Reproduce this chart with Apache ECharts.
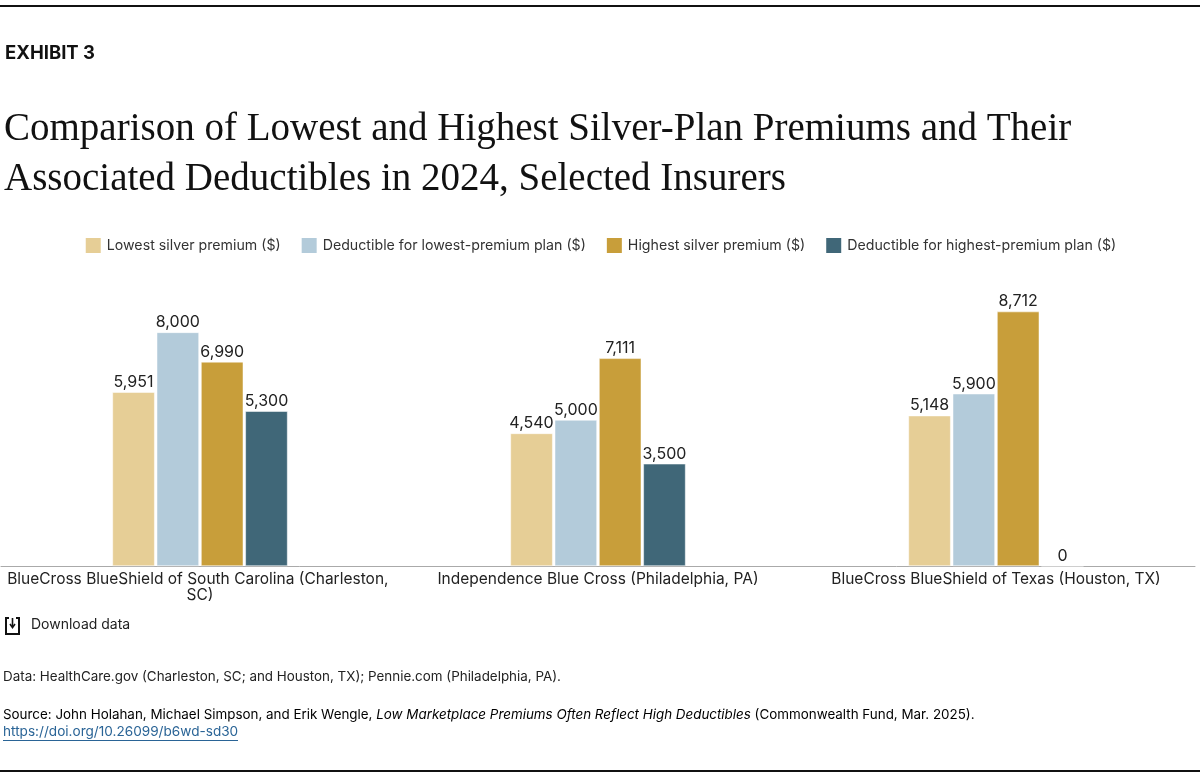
<!DOCTYPE html>
<html>
<head>
<meta charset="utf-8">
<script src="https://cdn.jsdelivr.net/npm/echarts@6/dist/echarts.min.js"></script>
<style>
html,body{margin:0;padding:0;background:#fff;}
#chart{width:1200px;height:775px;}
</style>
</head>
<body>
<div id="chart"></div>
<script>
const categories = [
  "BlueCross BlueShield of South Carolina (Charleston, SC)",
  "Independence Blue Cross (Philadelphia, PA)",
  "BlueCross BlueShield of Texas (Houston, TX)"
];
const seriesNames = [
  "Lowest silver premium ($)",
  "Deductible for lowest-premium plan ($)",
  "Highest silver premium ($)",
  "Deductible for highest-premium plan ($)"
];
const lowestPremium = [5951, 4540, 5148];
const lowestDeductible = [8000, 5000, 5900];
const highestPremium = [6990, 7111, 8712];
const highestDeductible = [5300, 3500, 0];
const colors = ["#E6CE96", "#B3CBDA", "#C89E3A", "#406778"];

const sans = "Inter, Roboto, 'Noto Sans', sans-serif";
const serif = "'Liberation Serif', 'DejaVu Serif', serif";
const allData = [lowestPremium, lowestDeductible, highestPremium, highestDeductible];

const chart = echarts.init(document.getElementById('chart'), null, {renderer: 'canvas'});
const option = {
  animation: false,
  color: colors,
  textStyle: {fontFamily: sans},
  legend: {
    top: 231,
    left: 'center',
    itemWidth: 17,
    itemHeight: 17,
    itemGap: 19,
    icon: 'rect',
    textStyle: {fontSize: 14.2, color: '#333', fontFamily: sans},
    data: seriesNames
  },
  grid: {left: 1, right: 5, top: 274, bottom: 209, containLabel: false},
  xAxis: {
    type: 'category',
    data: categories,
    axisLine: {lineStyle: {color: '#aaa', width: 1}},
    axisTick: {show: false},
    axisLabel: {
      fontSize: 15.5, color: '#222', fontFamily: sans, margin: 5,
      width: 392, overflow: 'break', lineHeight: 16, interval: 0
    }
  },
  yAxis: {
    type: 'value', min: 0, max: 10000, show: false,
    splitLine: {show: false}
  },
  series: seriesNames.map((n, i) => ({
    name: n,
    type: 'bar',
    data: allData[i],
    barGap: '5%',
    barCategoryGap: '56%',
    itemStyle: {color: colors[i], borderColor: '#fff', borderWidth: 0.5},
    label: {
      show: true, position: 'top', distance: 2,
      fontSize: 16, color: '#222', fontFamily: sans,
      formatter: p => p.value.toLocaleString('en-US')
    }
  })),
  graphic: [
    {type: 'rect', shape: {x: 0, y: 5, width: 1200, height: 2}, style: {fill: '#111'}},
    {type: 'rect', shape: {x: 0, y: 770, width: 1200, height: 2}, style: {fill: '#111'}},
    {type: 'text', left: 5, top: 44, style: {text: 'EXHIBIT 3', font: "bold 18.5px " + sans, fill: '#111'}},
    {type: 'text', left: 4, top: 105, style: {
      text: 'Comparison of Lowest and Highest Silver-Plan Premiums and Their\nAssociated Deductibles in 2024, Selected Insurers',
      font: "39px " + serif, fill: '#111', lineHeight: 50}},
    // download icon
    {type: 'polyline', shape: {points: [[9, 618], [6, 618], [6, 634], [19, 634], [19, 618], [16, 618]]},
      style: {stroke: '#111', lineWidth: 2, fill: null}},
    {type: 'line', shape: {x1: 12.5, y1: 618, x2: 12.5, y2: 627}, style: {stroke: '#111', lineWidth: 1.6}},
    {type: 'polyline', shape: {points: [[10, 624], [12.5, 627.5], [15, 624]]}, style: {stroke: '#111', lineWidth: 1.6, fill: null}},
    {type: 'text', left: 31, top: 618, style: {text: 'Download data', font: "14px " + sans, fill: '#222'}},
    {type: 'text', left: 3, top: 670, style: {
      text: 'Data: HealthCare.gov (Charleston, SC; and Houston, TX); Pennie.com (Philadelphia, PA).',
      font: "13.4px " + sans, fill: '#222'}},
    {type: 'text', left: 3, top: 708, style: {
      text: '{n|Source: John Holahan, Michael Simpson, and Erik Wengle, }{i|Low Marketplace Premiums Often Reflect High Deductibles}{n| (Commonwealth Fund, Mar. 2025).}',
      rich: {
        n: {fontSize: 13.4, fontFamily: sans, color: '#222'},
        i: {fontSize: 13.4, fontFamily: sans, fontStyle: 'italic', color: '#222'}
      }}},
    {type: 'text', left: 3, top: 725, style: {
      text: 'https://doi.org/10.26099/b6wd-sd30', font: "13.6px " + sans, fill: '#2a6496'}},
    {type: 'rect', shape: {x: 3, y: 740, width: 235, height: 1}, style: {fill: '#2a6496'}}
  ]
};
chart.setOption(option);
</script>
</body>
</html>
